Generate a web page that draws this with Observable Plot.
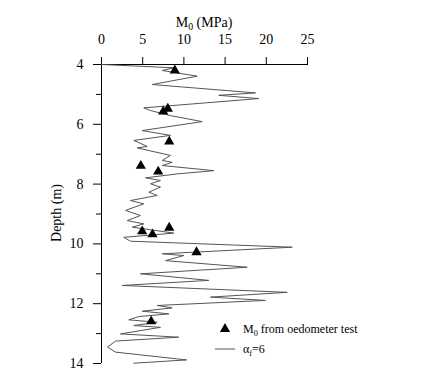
<!DOCTYPE html>
<html>
<head>
<meta charset="utf-8">
<script src="https://cdn.jsdelivr.net/npm/d3@7"></script>
<script src="https://cdn.jsdelivr.net/npm/@observablehq/plot@0.6"></script>
<style>
  html, body { margin: 0; padding: 0; background: #fff; }
  #wrap { position: relative; width: 422px; height: 388px; font-family: "Liberation Serif", "Times New Roman", serif; color: #000; }
  #wrap svg, #wrap svg text { font-family: "Liberation Serif", "Times New Roman", serif !important; }
  .ov { position: absolute; white-space: nowrap; line-height: 1; }
  sub { font-size: 0.7em; vertical-align: -0.3em; line-height: 0; }
</style>
</head>
<body>
<div id="wrap"></div>
<script>
// Profile line (alpha_f = 6)
const lineDepth = [4.00, 4.11, 4.20, 4.39, 4.67, 4.95, 5.03, 5.14, 5.45, 5.54, 5.71, 5.91, 6.21, 6.37, 6.54, 6.74, 6.79, 7.04, 7.21, 7.27, 7.38, 7.55, 7.66, 7.79, 7.88, 7.99, 8.10, 8.27, 8.38, 8.55, 8.66, 8.88, 9.05, 9.22, 9.33, 9.44, 9.64, 9.78, 9.91, 10.11, 10.33, 10.39, 10.56, 10.78, 11.00, 11.22, 11.39, 11.62, 11.78, 11.89, 12.06, 12.14, 12.25, 12.34, 12.43, 12.54, 12.62, 12.73, 12.79, 13.01, 13.12, 13.25, 13.45, 13.62, 13.88, 13.99];
const lineM0 = [0.0, 8.77, 7.37, 11.61, 6.15, 18.69, 14.24, 19.09, 5.13, 5.95, 8.37, 12.22, 4.94, 8.37, 3.92, 5.55, 4.33, 8.37, 7.37, 8.58, 7.37, 13.63, 9.19, 5.34, 7.16, 5.95, 7.16, 5.74, 6.76, 3.52, 5.13, 2.91, 4.73, 3.12, 5.13, 3.73, 8.77, 2.71, 3.52, 23.14, 7.37, 9.99, 7.77, 17.68, 4.73, 13.02, 2.51, 22.54, 13.23, 19.90, 6.76, 8.58, 4.94, 8.17, 4.53, 3.31, 6.76, 3.92, 7.16, 2.31, 9.38, 1.70, 0.73, 1.70, 10.32, 3.92];

// Oedometer test points
const testDepth = [4.20, 5.48, 5.57, 6.58, 7.39, 7.58, 9.58, 9.68, 9.46, 10.28, 12.59];
const testM0 = [8.90, 8.05, 7.49, 8.22, 4.77, 6.88, 4.94, 6.19, 8.22, 11.53, 6.03];

// Ticks
const xTicks = [0, 5, 10, 15, 20, 25];
const yMajor = [4, 6, 8, 10, 12, 14];
const yMinor = [5, 7, 9, 11, 13];

const lineData = lineDepth.map((d, i) => ({depth: d, m0: lineM0[i]}));
const testData = testDepth.map((d, i) => ({depth: d, m0: testM0[i]}));

const serif = '"Liberation Serif", "Times New Roman", serif';

const chart = Plot.plot({
  width: 422,
  height: 388,
  marginLeft: 101,
  marginRight: 115,
  marginTop: 64,
  marginBottom: 25,
  style: {fontFamily: serif, fontSize: "14px", color: "#000", background: "#fff"},
  x: {domain: [0, 25]},
  y: {domain: [4, 14], reverse: true},
  marks: [
    Plot.ruleY([4], {stroke: "#000"}),
    Plot.ruleX([0], {stroke: "#000"}),
    Plot.axisX(xTicks, {anchor: "top", tickSize: 8, tickPadding: 13, label: null, fontFamily: serif, fontSize: 14}),
    Plot.axisY(yMajor, {anchor: "left", tickSize: 8, tickPadding: 10, label: null, fontFamily: serif, fontSize: 14}),
    Plot.axisY(yMinor, {anchor: "left", tickSize: 5, tickFormat: () => "", label: null}),
    Plot.line(lineData, {x: "m0", y: "depth", stroke: "#555", strokeWidth: 1}),
    Plot.dot(testData, {x: "m0", y: "depth", symbol: "triangle", r: 3.8, fill: "#000", stroke: "none"})
  ]
});

const wrap = document.getElementById("wrap");
wrap.appendChild(chart);

function addText(html, css) {
  const d = document.createElement("div");
  d.className = "ov";
  d.innerHTML = html;
  Object.assign(d.style, css);
  wrap.appendChild(d);
  return d;
}
addText("M<sub>0</sub> (MPa)", {left: "204px", top: "23px", fontSize: "14px", transform: "translate(-50%,-50%)"});
addText("Depth (m)", {left: "57px", top: "213px", fontSize: "14px", transform: "translate(-50%,-50%) rotate(-90deg)"});

// Legend
const leg = document.createElementNS("http://www.w3.org/2000/svg", "svg");
leg.setAttribute("width", "30"); leg.setAttribute("height", "40");
Object.assign(leg.style, {position: "absolute", left: "210px", top: "318px"});
leg.innerHTML = '<path d="' + d3.symbol(d3.symbolTriangle, 3.8 * 3.8 * Math.PI)() + '" transform="translate(15,11)" fill="#000"/>' +
  '<line x1="5" x2="25" y1="31" y2="31" stroke="#555" stroke-width="1"/>';
wrap.appendChild(leg);
addText("M<sub>0</sub> from oedometer test", {left: "243px", top: "329px", fontSize: "12px", transform: "translateY(-50%)"});
addText("&alpha;<sub>f</sub>=6", {left: "243px", top: "349px", fontSize: "12px", transform: "translateY(-50%)"});
</script>
</body>
</html>
